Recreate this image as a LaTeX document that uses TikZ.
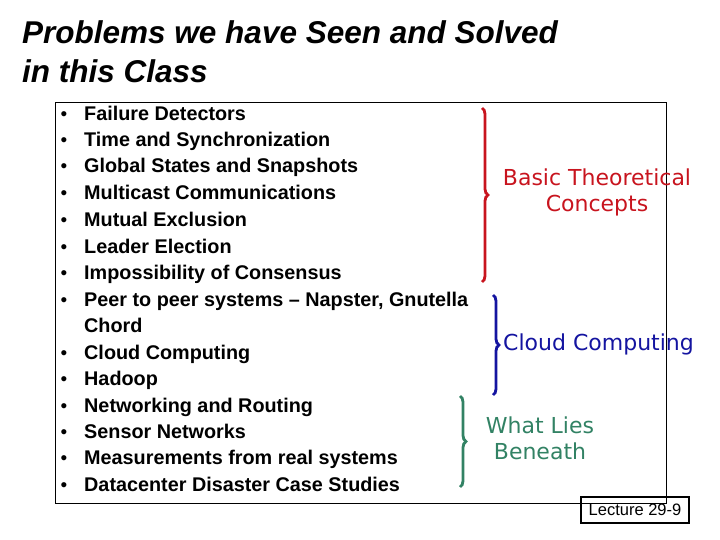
\documentclass[tikz,border=0pt]{standalone}
\usepackage{fontspec}
\setmainfont{Liberation Sans}
\newfontfamily\handfont{DejaVu Sans}
\usetikzlibrary{decorations.pathreplacing}
\definecolor{bracered}{RGB}{200,20,30}
\definecolor{braceblue}{RGB}{20,20,160}
\definecolor{bracegreen}{RGB}{50,130,100}

\begin{document}
\begin{tikzpicture}[
    x=1pt, y=-1pt,
    topic/.style={anchor=base west, inner sep=0pt, font=\bfseries\fontsize{19.8}{20}\selectfont},
    dot/.style={anchor=base, inner sep=0pt, font=\fontsize{19}{19}\selectfont},
    group brace/.style={decorate, decoration={brace, amplitude=6pt}, line width=2.8pt},
    group label/.style={align=center, inner sep=0pt, font=\handfont\fontsize{22}{26}\selectfont}
  ]
  \useasboundingbox (0,0) rectangle (720,540);

  % --- Title ---
  \node[anchor=west, inner sep=0pt, font=\bfseries\itshape\fontsize{31.5}{39}\selectfont, align=left]
    (title) at (22,52) {Problems we have Seen and Solved\\in this Class};

  % --- Frame ---
  \draw (55,102) rectangle (666,503);

  % --- Topic list ---
  \foreach \y/\txt in {114/Failure Detectors, 140/Time and Synchronization,
      166/Global States and Snapshots, 193/Multicast Communications,
      219/Mutual Exclusion, 246/Leader Election, 272/Impossibility of Consensus,
      299/{Peer to peer systems -- Napster, Gnutella}, 352/Cloud Computing,
      378/Hadoop, 405/Networking and Routing, 431/Sensor Networks,
      457/Measurements from real systems, 484/Datacenter Disaster Case Studies} {
    \node[dot] at (64,\y+7) {•};
    \node[topic] at (84,\y+7) {\txt};
  }
  \node[topic] (chord) at (84,332) {Chord};

  % --- Braces ---
  \coordinate (red top) at (482,108);
  \coordinate (red bottom) at (482,282);
  \coordinate (blue top) at (493,295);
  \coordinate (blue bottom) at (493,395);
  \coordinate (green top) at (460,396);
  \coordinate (green bottom) at (460,487);
  \draw[group brace, bracered] (red top) -- (red bottom);
  \draw[group brace, braceblue] (blue top) -- (blue bottom);
  \draw[group brace, bracegreen] (green top) -- (green bottom);

  % --- Group labels ---
  \node[group label, bracered] (theory) at (597,192) {Basic Theoretical\\Concepts};
  \node[group label, braceblue, anchor=west] (cloud) at (503,344) {Cloud Computing};
  \node[group label, bracegreen] (beneath) at (540,438) {What Lies\\Beneath};

  % --- Footer ---
  \node[draw, line width=1.2pt, minimum width=108pt, minimum height=26pt, inner sep=0pt,
    font=\fontsize{16.5}{16}\selectfont] (lecture) at (635,510) {Lecture 29-9};
\end{tikzpicture}
\end{document}
